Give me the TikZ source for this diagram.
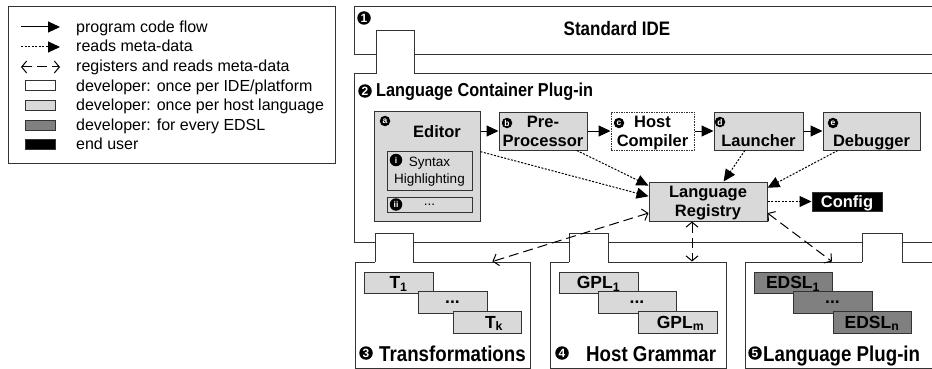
\documentclass[tikz,border=0pt]{standalone}
\usepackage{fontspec}
\setmainfont{Liberation Sans}
\newfontfamily\narrowfont[FakeStretch=0.87]{Liberation Sans}
\usepackage{tikz}
\usetikzlibrary{arrows.meta,positioning}
\definecolor{hostgray}{RGB}{217,217,217}
\definecolor{edslgray}{RGB}{128,128,128}

\begin{document}
\begin{tikzpicture}[x=1pt,y=-1pt,
  pane/.style={rectangle,draw=black!80,fill=white,line width=1pt,inner sep=0pt},
  comp/.style={rectangle,draw=black!80,fill=hostgray,line width=1pt,inner sep=0pt,align=center,text depth=0pt,font=\fontsize{16.5}{19}\selectfont\bfseries},
  subcomp/.style={comp,font=\fontsize{13.5}{17}\selectfont},
  stair/.style={comp,minimum height=21pt,font=\fontsize{17.5}{19}\selectfont\bfseries},
  badge/.style={circle,fill=black,text=white,inner sep=0pt,minimum size=13.5pt,font=\fontsize{12}{12}\selectfont\bfseries},
  minibadge/.style={badge,minimum size=10.5pt,font=\fontsize{8.5}{8.5}\selectfont\bfseries},
  boxname/.style={anchor=base west,inner sep=0pt,font=\narrowfont\fontsize{21.5}{21}\selectfont\bfseries},
  legtext/.style={anchor=base west,inner sep=0pt,font=\fontsize{16}{19}\selectfont},
  swatch/.style={rectangle,draw=black!80,line width=1pt,minimum width=30pt,minimum height=10pt,inner sep=0pt},
  flow/.style={line width=1pt,-{Triangle[length=12pt,width=11pt]}},
  meta/.style={flow,dash pattern=on 2pt off 1.5pt},
  reg/.style={line width=1pt,dash pattern=on 10pt off 5pt,{Straight Barb[length=5pt,width=12pt]}-{Straight Barb[length=5pt,width=12pt]}}
]
\useasboundingbox (0,0) rectangle (932,369);
\clip (0,0) rectangle (932,369);

% legend
\node[pane,minimum width=327pt,minimum height=156pt] (legend) at (171.5,85) {};
\coordinate (fa) at (21,27); \coordinate (fb) at (60,27);
\coordinate (ma) at (21,47); \coordinate (mb) at (60,47);
\coordinate (ra) at (21,67); \coordinate (rb) at (60,67);
\draw[flow] (fa) -- (fb);
\draw[meta] (ma) -- (mb);
\draw[reg] (ra) -- (rb);
\foreach \f [count=\i] in {white,hostgray,edslgray,black}
  \node[swatch,fill=\f] (sw\i) at (40,{66.4+19.6*\i}) {};
\node[legtext] (lt1) at (76,32.3) {program code flow};
\node[legtext] (lt2) at (76,51.9) {reads meta-data};
\node[legtext] (lt3) at (76,71.5) {registers and reads meta-data};
\node[legtext] (lt4) at (76,91.1) {developer: once per IDE/platform};
\node[legtext] (lt5) at (76,110.7) {developer: once per host language};
\node[legtext] (lt6) at (76,130.3) {developer: for every EDSL};
\node[legtext] (lt7) at (76,149.9) {end user};

% containers
\node[pane,minimum width=600pt,minimum height=48pt] (ide) at (654,31) {};
\node[pane,minimum width=600pt,minimum height=168pt] (lcp) at (654,158) {};
\node[pane,minimum width=175pt,minimum height=106pt] (trans) at (442.5,315) {};
\node[pane,minimum width=176pt,minimum height=106pt] (grammar) at (638,315) {};
\node[pane,minimum width=215pt,minimum height=106pt] (plugin) at (852.5,315) {};
\foreach \l/\r/\t/\b in {376/414/31/74,375/413/233/262,569/608/233/262,862/902/233/262}{
  \fill[white] (\l,\t) rectangle (\r,\b+0.7);
  \draw[line width=1pt,black!80] (\l,\b) -- (\l,\t) -- (\r,\t) -- (\r,\b);
}
\node[anchor=base,inner sep=0pt,font=\narrowfont\fontsize{19.5}{19}\selectfont\bfseries] (idename) at (617,36) {Standard IDE};
\node[badge] (n1) at (364,18) {1};
\node[badge] (n2) at (365,91) {2};
\node[anchor=base west,inner sep=0pt,font=\narrowfont\fontsize{18.7}{19}\selectfont\bfseries] (lcpname) at (376,96.5) {Language Container Plug-in};

% components of the container
\node[comp,minimum width=106pt,minimum height=110pt] (editor) at (427,166) {};
\node[anchor=base,inner sep=0pt,font=\fontsize{16.5}{19}\selectfont\bfseries] (editorname) at (437,137) {Editor};
\node[subcomp,minimum width=85pt,minimum height=39pt] (syntax) at (429.5,170.5) {Syntax\\Highlighting};
\node[subcomp,minimum width=85pt,minimum height=15pt] (more) at (429.5,204.5) {...};
\node[comp,minimum width=88pt,minimum height=38pt] (preproc) at (543,131) {Pre-\\Processor};
\node[comp,minimum width=83pt,minimum height=38pt,fill=white,dash pattern=on 1.5pt off 1pt] (hostc) at (652.5,131) {Host\\Compiler};
\node[comp,minimum width=89pt,minimum height=38pt,text height=30pt] (launcher) at (758.5,131) {Launcher};
\node[comp,minimum width=97pt,minimum height=38pt,text height=30pt] (debugger) at (871.5,131) {Debugger};
\node[comp,minimum width=118pt,minimum height=39pt] (registry) at (708,201.5) {Language\\Registry};
\node[comp,minimum width=70pt,minimum height=19pt,fill=black,text=white] (config) at (847,201.5) {Config};
\node[minibadge] (ba) at (385,121) {a};
\node[minibadge] (bb) at (507,123) {b};
\node[minibadge] (bc) at (619,123) {c};
\node[minibadge] (bd) at (720,122) {d};
\node[minibadge] (be) at (833,123) {e};
\node[minibadge,minimum size=12.5pt] (bi) at (396,160) {i};
\node[minibadge,minimum size=12.5pt] (bii) at (396,204.5) {ii};

% transformations, grammars, edsls
\node[stair,minimum width=69pt] (t1) at (398.5,282.5) {T\textsubscript{1}};
\node[stair,minimum width=69pt,minimum height=22pt] (tdots) at (452.5,302) {...};
\node[stair,minimum width=68pt,minimum height=22pt] (tk) at (487,322) {\hspace{14pt}T\textsubscript{k}};
\node[stair,minimum width=79pt] (g1) at (598.5,282.5) {GPL\textsubscript{1}};
\node[stair,minimum width=78pt,minimum height=22pt] (gdots) at (637,302) {...};
\node[stair,minimum width=79pt,minimum height=22pt] (gm) at (677.5,322) {\hspace{6pt}GPL\textsubscript{m}};
\node[stair,minimum width=78pt,fill=edslgray] (e1) at (793,282.5) {EDSL\textsubscript{1}};
\node[stair,minimum width=79pt,minimum height=22pt,fill=edslgray] (edots) at (832.5,302) {...};
\node[stair,minimum width=78pt,minimum height=22pt,fill=edslgray] (en) at (872,322) {EDSL\textsubscript{n}};
\node[badge] (n3) at (366,353) {3};
\node[badge] (n4) at (562,353) {4};
\node[badge] (n5) at (755,353) {5};
\node[boxname] (transname) at (379,361) {Transformations};
\node[boxname] (grammarname) at (586,361) {Host Grammar};
\node[boxname] (pluginname) at (763,361) {Language Plug-in};

% connectors
\draw[flow] (editor.east |- preproc.west) -- (preproc.west);
\draw[flow] (preproc.east) -- (hostc.west);
\draw[flow] (hostc.east) -- (launcher.west);
\draw[flow] (launcher.east) -- (debugger.west);
\draw[meta] (editor.15) -- (registry.175);
\draw[meta] (preproc.-30) -- (registry.165);
\draw[meta] (launcher.-125) -- (registry.52);
\draw[meta] (debugger.-150) -- (registry.13);
\draw[meta] (registry.east) -- (config.west);
\draw[reg] (registry.191) -- (trans.47);
\draw[reg] ([xshift=-16pt]registry.south) -- ([xshift=-16pt]registry.south |- grammar.north);
\draw[reg] (registry.-11) -- (plugin.111);
\end{tikzpicture}
\end{document}
